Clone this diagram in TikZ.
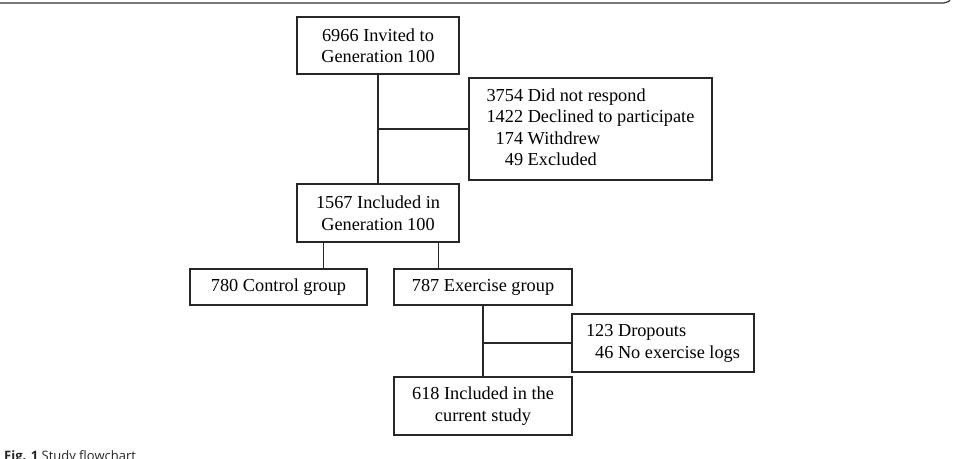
\documentclass[tikz,border=0pt]{standalone}
\usepackage{fontspec}
\setmainfont{Liberation Serif}
\newfontfamily\capfont{Open Sans}
\begin{document}
\begin{tikzpicture}[x=1pt,y=-1pt,
  box/.style={draw=black!85, line width=1.1pt, rectangle, inner sep=0pt, align=center,
    font=\fontsize{18.3}{21.5}\selectfont},
  conn/.style={draw=black!85, line width=1.1pt}]
\useasboundingbox (0,0) rectangle (953,458);
\draw[line width=1.2pt, black!80] (0,3) -- (944,3) arc[start angle=90, end angle=20, radius=8];
\node[box, minimum width=162pt, minimum height=57pt] (a) at (378,45.5) {6966 Invited to\\Generation 100};
\node[box, minimum width=243pt, minimum height=102pt] (b) at (590.5,129)
  {\begin{tabular}{@{}r@{ }l@{}}3754 & Did not respond\\1422 & Declined to participate\\174 & Withdrew\\49 & Excluded\end{tabular}};
\node[box, minimum width=162pt, minimum height=58pt] (c) at (378,213) {1567 Included in\\Generation 100};
\node[box, minimum width=177pt, minimum height=36pt] (d) at (278.5,287) {780 Control group};
\node[box, minimum width=178pt, minimum height=36pt] (e) at (483,287) {787 Exercise group};
\node[box, minimum width=182pt, minimum height=58pt] (f) at (663,343)
  {\begin{tabular}{@{}r@{ }l@{}}123 & Dropouts\\46 & No exercise logs\end{tabular}};
\node[box, minimum width=178pt, minimum height=58pt] (g) at (483,406) {618 Included in the\\current study};
\draw[conn] (a.south) -- (c.north);
\draw[conn] (a.south |- b.west) -- (b.west);
\draw[conn] ([xshift=27pt]c.south west) -- ([xshift=27pt]c.south west |- d.north);
\draw[conn] ([xshift=-21pt]c.south east) -- ([xshift=-21pt]c.south east |- e.north);
\draw[conn] (e.south) -- (g.north);
\draw[conn] (e.south |- f.west) -- (f.west);
\node[anchor=base west, inner sep=0pt, font=\capfont\fontsize{13}{15}\selectfont, text=black!85] (cap) at (4,460)
  {\textbf{Fig. 1} Study flowchart};
\end{tikzpicture}
\end{document}
